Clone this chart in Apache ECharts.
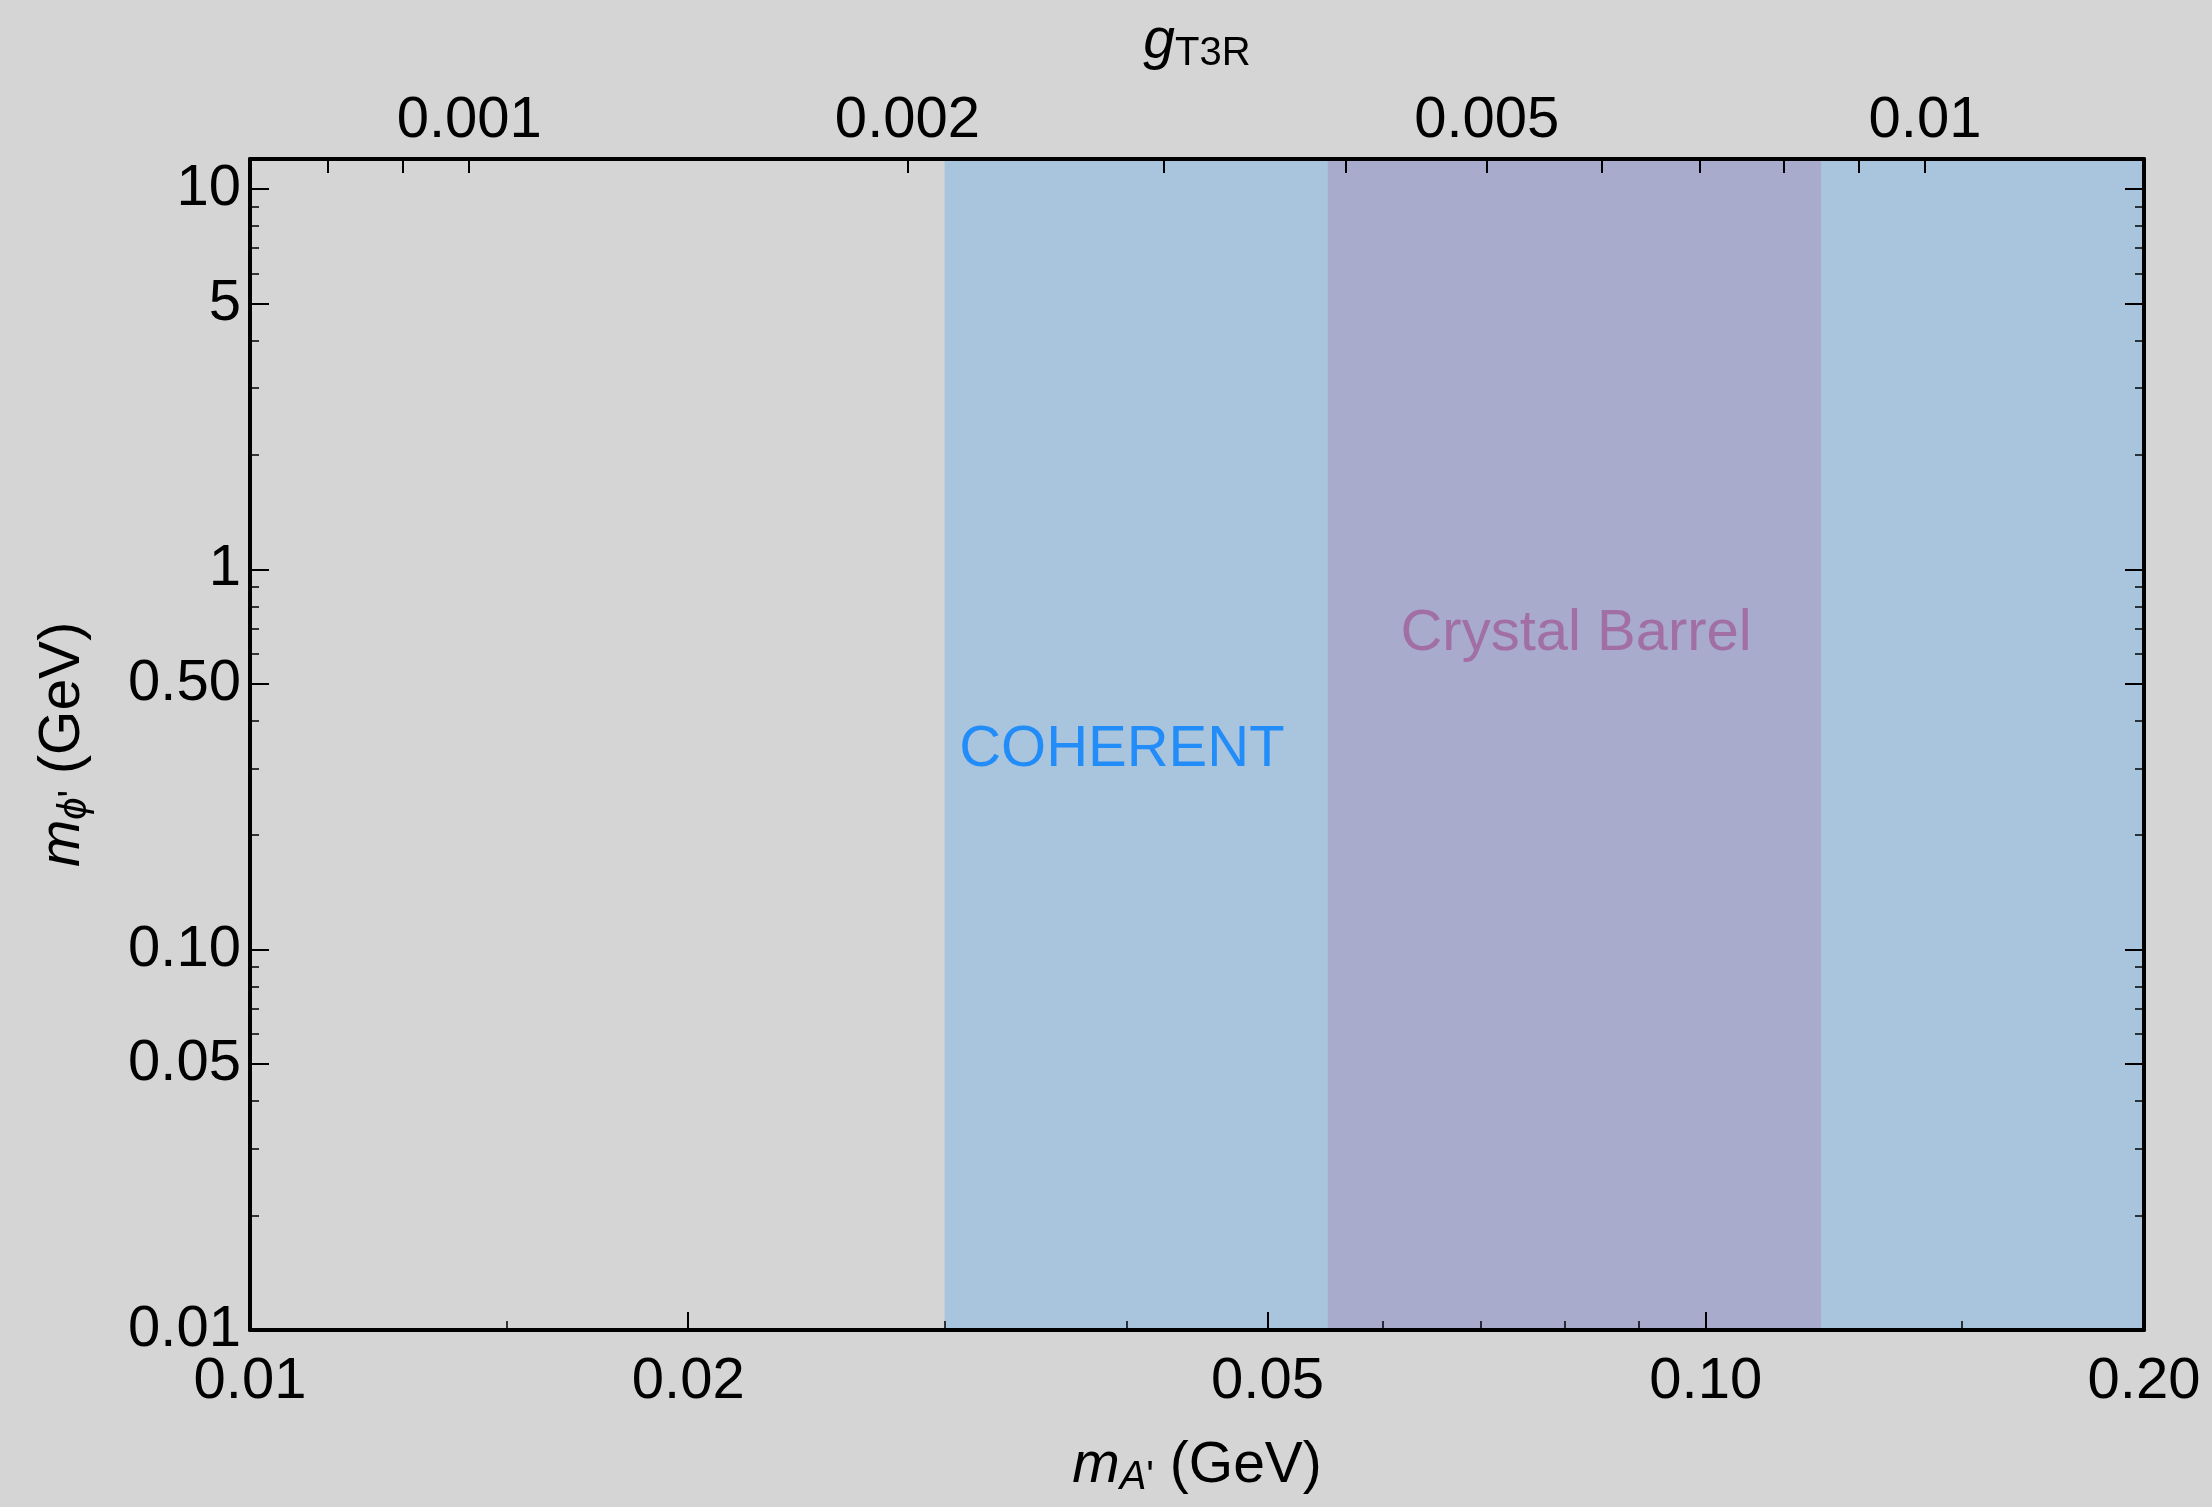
<!DOCTYPE html>
<html>
<head>
<meta charset="utf-8">
<title>Dark photon mass plane</title>
<script src="https://cdn.jsdelivr.net/npm/echarts@6/dist/echarts.min.js"></script>
<style>
  html, body { margin: 0; padding: 0; background: #d5d5d5; }
  #chart { width: 2212px; height: 1507px; }
</style>
</head>
<body>
<div id="chart"></div>
<script>
// ---- axis ranges and ticks ----
// m_A' (GeV), bottom axis
const massRange = [0.01, 0.2];
const massMajorTicks = [0.01, 0.02, 0.05, 0.1, 0.2];
const massMajorLabels = ['0.01', '0.02', '0.05', '0.10', '0.20'];
const massMinorTicks = [0.015, 0.03, 0.04, 0.06, 0.07, 0.08, 0.09, 0.15];

// m_phi' (GeV), left/right axes
const phiRange = [0.01, 12];
const phiMajorTicks = [0.01, 0.05, 0.1, 0.5, 1, 5, 10];
const phiMajorLabels = ['0.01', '0.05', '0.10', '0.50', '1', '5', '10'];
const phiMinorTicks = [0.02, 0.03, 0.04, 0.06, 0.07, 0.08, 0.09,
                       0.2, 0.3, 0.4, 0.6, 0.7, 0.8, 0.9,
                       2, 3, 4, 6, 7, 8, 9];

// g_T3R coupling, top axis
const gRange = [0.000707, 0.01414];
const gTicks = [0.0008, 0.0009, 0.001, 0.002, 0.003, 0.004, 0.005,
                0.006, 0.007, 0.008, 0.009, 0.01];
const gLabelValues = [0.001, 0.002, 0.005, 0.01];
const gLabels = ['0.001', '0.002', '0.005', '0.01'];

// ---- excluded regions in m_A' ----
const regionNames = ['COHERENT', 'Crystal Barrel'];
const regionMassLo = [0.03, 0.055];
const regionMassHi = [0.2, 0.12];
// where each region's name is written (m_A', m_phi')
const regionTextMass = [0.0307, 0.0617];
const regionTextPhi = [0.335, 0.675];

// ---- styling ----
const FONT = '"Liberation Sans", Arial, Helvetica, sans-serif';
const regionFill = ['#a9c4dd', '#a8abcb'];
const regionTextColor = ['#0080ff', '#a0609a'];
const TICK_FONT = 58;

function labelLookup(values, labels) {
  return function (v) {
    for (let i = 0; i < values.length; i++) {
      if (Math.abs(values[i] - v) / values[i] < 1e-6) return labels[i];
    }
    return '';
  };
}

const nameRich = {
  i: { fontFamily: FONT, fontSize: 57, fontStyle: 'italic', color: '#000', lineHeight: 64 },
  t: { fontFamily: FONT, fontSize: 57, color: '#000', lineHeight: 64 },
  s: { fontFamily: FONT, fontSize: 40, fontStyle: 'italic', color: '#000', lineHeight: 40, verticalAlign: 'bottom' },
  p: { fontFamily: FONT, fontSize: 40, color: '#000', lineHeight: 40, verticalAlign: 'bottom' },
  u: { fontFamily: FONT, fontSize: 40, color: '#000', lineHeight: 40, verticalAlign: 'bottom' }
};

const frameLine = { show: true, lineStyle: { color: '#000', width: 4 } };
const noLine = { show: false };
const tickStyle = (len, w) => ({ show: true, inside: true, length: len, lineStyle: { color: '#000', width: w } });

function logAxis(extra) {
  return Object.assign({
    type: 'log',
    logBase: 10,
    gridIndex: 0,
    z: 10,
    splitLine: { show: false },
    minorTick: { show: false },
    minorSplitLine: { show: false },
    nameMoveOverlap: false
  }, extra);
}

const xAxes = [
  // bottom: m_A' with labels and long ticks
  logAxis({
    position: 'bottom',
    min: massRange[0], max: massRange[1],
    axisLine: frameLine,
    axisTick: Object.assign(tickStyle(18, 2), { customValues: massMajorTicks }),
    axisLabel: {
      customValues: massMajorTicks,
      formatter: labelLookup(massMajorTicks, massMajorLabels),
      fontFamily: FONT, fontSize: TICK_FONT, color: '#000', margin: 23
    },
    name: '{i|m}{s|A}{p|\'}{t| (GeV)}',
    nameLocation: 'middle',
    nameGap: 104,
    nameTextStyle: { rich: nameRich }
  }),
  // bottom: minor ticks
  logAxis({
    position: 'bottom',
    min: massRange[0], max: massRange[1],
    axisLine: noLine,
    axisTick: Object.assign(tickStyle(9, 1.5), { customValues: massMinorTicks }),
    axisLabel: { show: false }
  }),
  // top: g_T3R
  logAxis({
    position: 'top',
    min: gRange[0], max: gRange[1],
    axisLine: frameLine,
    axisTick: Object.assign(tickStyle(14, 2), { customValues: gTicks }),
    axisLabel: {
      customValues: gLabelValues,
      formatter: labelLookup(gLabelValues, gLabels),
      fontFamily: FONT, fontSize: TICK_FONT, color: '#000', margin: 9
    },
    name: '{i|g}{u|T3R}',
    nameLocation: 'middle',
    nameGap: 85,
    nameTextStyle: { rich: nameRich }
  })
];

const yAxes = [
  // left: m_phi' with labels
  logAxis({
    position: 'left',
    min: phiRange[0], max: phiRange[1],
    axisLine: frameLine,
    axisTick: Object.assign(tickStyle(19, 2), { customValues: phiMajorTicks }),
    axisLabel: {
      customValues: phiMajorTicks,
      formatter: labelLookup(phiMajorTicks, phiMajorLabels),
      fontFamily: FONT, fontSize: TICK_FONT, color: '#000', margin: 9
    },
    name: '{i|m}{s|ϕ}{p|\'}{t| (GeV)}',
    nameLocation: 'middle',
    nameGap: 155,
    nameTextStyle: { rich: nameRich }
  }),
  logAxis({
    position: 'left',
    min: phiRange[0], max: phiRange[1],
    axisLine: noLine,
    axisTick: Object.assign(tickStyle(9, 1.5), { customValues: phiMinorTicks }),
    axisLabel: { show: false }
  }),
  // right: mirrored ticks, no labels
  logAxis({
    position: 'right',
    min: phiRange[0], max: phiRange[1],
    axisLine: frameLine,
    axisTick: Object.assign(tickStyle(19, 2), { customValues: phiMajorTicks }),
    axisLabel: { show: false }
  }),
  logAxis({
    position: 'right',
    min: phiRange[0], max: phiRange[1],
    axisLine: noLine,
    axisTick: Object.assign(tickStyle(9, 1.5), { customValues: phiMinorTicks }),
    axisLabel: { show: false }
  })
];

const regionData = regionNames.map((n, i) => ({
  name: n,
  value: [regionMassLo[i], regionMassHi[i], phiRange[0], phiRange[1], i]
}));

const regionLabelData = regionNames.map((n, i) => ({
  name: n,
  value: [regionTextMass[i], regionTextPhi[i]],
  label: { color: regionTextColor[i] }
}));

const chart = echarts.init(document.getElementById('chart'), null, { renderer: 'canvas' });

chart.setOption({
  animation: false,
  backgroundColor: '#d5d5d5',
  grid: {
    left: 250, right: 68, top: 159, bottom: 177,
    containLabel: false,
    outerBoundsMode: 'none'
  },
  xAxis: xAxes,
  yAxis: yAxes,
  series: [
    {
      type: 'custom',
      name: 'excluded',
      xAxisIndex: 0,
      yAxisIndex: 0,
      clip: true,
      encode: { x: [0, 1], y: [2, 3] },
      renderItem: function (params, api) {
        const topLeft = api.coord([api.value(0), api.value(3)]);
        const bottomRight = api.coord([api.value(1), api.value(2)]);
        return {
          type: 'rect',
          shape: {
            x: topLeft[0], y: topLeft[1],
            width: bottomRight[0] - topLeft[0],
            height: bottomRight[1] - topLeft[1]
          },
          style: { fill: regionFill[api.value(4)] }
        };
      },
      data: regionData
    },
    {
      type: 'scatter',
      name: 'region names',
      xAxisIndex: 0,
      yAxisIndex: 0,
      symbolSize: 0,
      silent: true,
      label: {
        show: true,
        position: 'right',
        distance: 0,
        formatter: '{b}',
        fontFamily: FONT,
        fontSize: 58
      },
      data: regionLabelData
    }
  ]
});
</script>
</body>
</html>
